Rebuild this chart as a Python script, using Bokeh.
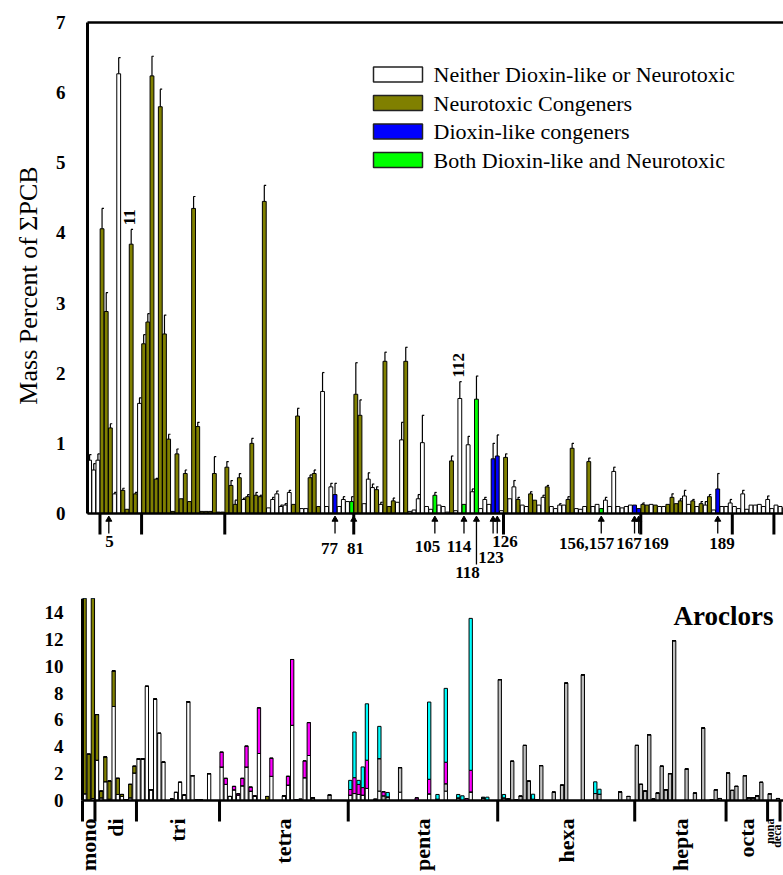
from math import pi
import numpy as np
from bokeh.plotting import figure
from bokeh.models import Range1d, FixedTicker, ColumnDataSource
from bokeh.layouts import column, row
from bokeh.embed import file_html
from bokeh.resources import INLINE
from bokeh.core.properties import value

# ---------------------------------------------------------------- data
homolog_names = ["mono", "di", "tri", "tetra", "penta", "hexa", "hepta", "octa", "nona", "deca"]
homolog_sizes = [3, 10, 20, 31, 36, 33, 22, 10, 3, 1]

# top panel: mass percent of sum PCB per congener slot, error (+) and class
# N = neither, T = neurotoxic, D = dioxin-like, B = both
top_pct = [
    0.76, 0.62, 0.76,
    4.06, 2.88, 1.22, 0.28, 6.27, 0.33, 0.06, 3.84, 0.28, 1.57,
    2.42, 2.73, 6.24, 0.49, 5.80, 2.56, 1.06, 0.03, 0.85, 0.21, 0.57, 0.17, 4.35, 1.24, 0.03, 0.03, 0.03, 0.57, 0.02, 0.02,
    0.66, 0.40, 0.13, 0.51, 0.20, 0.24, 1.00, 0.26, 0.24, 4.45, 0.08, 0.20, 0.28, 0.10, 0.12, 0.30, 0.13, 1.39, 0.07, 0.07,
    0.51, 0.57, 0.10, 1.74, 0.10, 0.38, 0.27, 0.10, 0.20, 0.17, 0.17,
    1.70, 1.40, 0.14, 0.49, 0.37, 0.34, 0.13, 2.17, 0.10, 0.18, 0.16, 1.05, 2.17, 0.03, 0.05, 0.21, 1.01, 0.10, 0.06, 0.26,
    0.12, 0.10, 0.02, 0.75, 0.04, 1.64, 0.13, 0.98, 0.31, 1.63, 0.07, 0.20, 0.13, 0.78, 0.82, 0.04,
    0.80, 0.21, 0.38, 0.20, 0.12, 0.10, 0.28, 0.19, 0.12, 0.23, 0.38, 0.10, 0.07, 0.12, 0.12, 0.20, 0.93, 0.07, 0.06, 0.10,
    0.74, 0.10, 0.13, 0.07, 0.19, 0.10, 0.60, 0.10, 0.08, 0.10, 0.12, 0.12, 0.07,
    0.13, 0.12, 0.13, 0.12, 0.10, 0.10, 0.13, 0.23, 0.14, 0.18, 0.25, 0.13, 0.18, 0.10, 0.14, 0.12, 0.24, 0.05, 0.35, 0.10,
    0.10, 0.15,
    0.10, 0.07, 0.28, 0.06, 0.12, 0.12, 0.13, 0.10, 0.20, 0.07,
    0.12, 0.10, 0.08,
    0.05,
]
top_err = [
    0.08, 0.09, 0.09,
    0.29, 0.27, 0.06, 0.02, 0.23, 0.03, 0, 0.21, 0.02, 0.08,
    0.13, 0.12, 0.28, 0.01, 0.25, 0.27, 0.07, 0, 0.07, 0, 0.05, 0, 0.17, 0.06, 0, 0, 0, 0.24, 0, 0,
    0.08, 0.07, 0.06, 0.06, 0.02, 0.03, 0.07, 0.04, 0.02, 0.23, 0, 0.03, 0.04, 0.02, 0.02, 0.03, 0, 0.11, 0, 0,
    0.04, 0.05, 0, 0.27, 0, 0.05, 0.16, 0, 0.04, 0, 0.07,
    0.45, 0.22, 0, 0.09, 0.05, 0.04, 0.03, 0.13, 0, 0.04, 0, 0.25, 0.20, 0, 0, 0.06, 0.39, 0, 0, 0.04,
    0, 0, 0, 0.07, 0, 0.24, 0, 0.12, 0.04, 0.33, 0, 0.03, 0, 0.22, 0.30, 0,
    0.05, 0, 0.09, 0.03, 0, 0, 0.03, 0, 0, 0.03, 0.02, 0, 0, 0.02, 0, 0.04, 0.07, 0, 0, 0,
    0.05, 0, 0, 0, 0.04, 0, 0.06, 0, 0, 0, 0, 0, 0,
    0.02, 0, 0, 0, 0, 0, 0, 0.05, 0, 0.03, 0.08, 0, 0.02, 0, 0.03, 0.05, 0.03, 0, 0.22, 0,
    0, 0.05,
    0, 0, 0.05, 0, 0, 0, 0, 0, 0.05, 0,
    0, 0, 0,
    0,
]
top_class = list(
    "NNN"
    "TTTNNTTTTN"
    "TTTTTTTTTTTTTTTTTTTT"
    "TTTTNTTTTTNNNNNNTTNNTTTNNNDNNNB"
    "TTNNNTNTTTNNTNNNNNNBNNNTNNBNNBNNNDDN"
    "TNNTNNTTNNTNNNNTTNNNTNNBNNNNNNNDD"
    "TTNTNNTTTTNNTNTNTNDNNN"
    "NNNNNNNNNN"
    "NNN"
    "N"
)
class_names = {"N": "Neither Dioxin-like or Neurotoxic", "T": "Neurotoxic Congeners",
               "D": "Dioxin-like congeners", "B": "Both Dioxin-like and Neurotoxic"}
labeled_bars = {10: "11", 89: "112"}
marked_labels = ["5", "77", "81", "105", "114", "118", "123", "126", "156,157", "167", "169", "189"]
arrow_slots = [4, 59, 83, 90, 97, 98, 123, 131, 132, 151]

# bottom panel: Aroclor composition, stacked segments per congener slot
aro_white = {0: 0.5, 2: 0.15, 3: 3.0, 4: 0.2, 5: 1.4, 6: 0.1, 7: 7.0, 8: 0.45, 9: 0.3, 10: 0.05, 11: 0.2, 12: 2.05,
             13: 3.1, 14: 3.1, 15: 8.5, 16: 0.8, 17: 7.55, 18: 5.0, 19: 2.85, 21: 0.1, 22: 0.6, 23: 1.35, 24: 0.4,
             25: 7.35, 26: 1.85, 27: 0.05, 28: 0.05, 30: 2.0,
             33: 2.5, 34: 1.2, 35: 0.3, 36: 0.8, 37: 0.4, 38: 1.1, 39: 2.5, 40: 0.7, 41: 0.3, 42: 3.5, 45: 1.8,
             48: 0.35, 49: 1.15, 50: 5.6, 51: 0.05, 53: 1.7, 54: 3.35,
             64: 0.4, 65: 0.52, 66: 0.45, 67: 0.4, 68: 0.9, 71: 0.7, 76: 0.62, 83: 0.5, 87: 0.7, 90: 0.2, 93: 0.64,
             96: 0.2, 102: 0.1}
aro_gray = {55: 0.2, 59: 0.4, 71: 2.42, 72: 0.35, 73: 0.27, 76: 1.83, 85: 0.1, 87: 0.55,
            100: 9.0, 101: 0.2, 103: 2.92, 104: 0.05, 105: 0.32, 106: 4.1, 107: 1.44, 108: 0.1, 109: 0.05, 110: 2.6,
            113: 0.62, 115: 1.14, 116: 8.74, 120: 9.36, 123: 0.52, 124: 0.47, 129: 0.64, 131: 0.3,
            133: 4.1, 134: 1.2, 135: 0.7, 136: 4.9, 137: 0.1, 138: 0.55, 139: 2.55, 140: 0.8, 141: 2.0, 142: 11.9,
            145: 2.35, 147: 0.55, 149: 5.4, 151: 0.03, 152: 0.8, 153: 0.15,
            155: 2.05, 156: 0.75, 157: 1.05, 159: 1.85, 160: 0.2, 161: 0.2, 162: 0.35, 163: 1.35, 165: 0.5, 167: 0.15}
aro_olive = {0: 22.0, 1: 3.45, 2: 22.0, 3: 3.4, 4: 0.5, 5: 1.85, 6: 1.35, 7: 2.65, 8: 1.2, 9: 0.15, 11: 1.0,
             12: 0.5, 44: 0.3}
aro_magenta = {33: 1.1, 34: 0.45, 36: 0.25, 37: 0.1, 38: 0.55, 39: 1.55, 40: 0.3, 41: 0.05, 42: 3.4, 45: 1.35,
               49: 0.65, 50: 4.9, 52: 0.1, 53: 1.25, 54: 2.45, 64: 0.42, 65: 1.18, 66: 0.75, 67: 0.56, 68: 2.1,
               70: 0.1, 72: 0.3, 80: 0.2, 83: 1.08, 87: 1.6, 92: 0.15, 93: 1.61}
aro_cyan = {64: 0.68, 65: 3.4, 66: 0.3, 67: 1.54, 68: 4.2, 71: 2.4, 73: 0.33, 83: 5.75, 85: 0.35, 87: 5.5,
            90: 0.25, 91: 0.35, 93: 11.31, 96: 0.05, 97: 0.25, 101: 0.25, 108: 0.37, 123: 0.87, 124: 0.37}

# ---------------------------------------------------------------- style / layout
SERIF = "Liberation Serif"
FILL = {"N": "#ffffff", "T": "#808000", "D": "#0000ff", "B": "#00ff00"}
bounds = np.cumsum([0] + homolog_sizes)  # 0,3,13,...,169

# pixel geometry of the reference page (used only to place annotations)
TX0, TS, TY0, TU = 87.0, 4.16, 513.0, 70.13   # top: slot 0 px, px/slot, zero px, px/unit
BX0, BS, BY0, BU = 82.0, 4.152, 800.0, 13.43  # bottom
TITLE_W = 45


def tx(px):
    return (px - TX0) / TS


def ty(py):
    return (TY0 - py) / TU


def bx(px):
    return (px - BX0) / BS


def by(py):
    return (BY0 - py) / BU


def style_yaxis(p, ticks, standoff):
    p.xaxis.visible = False
    p.xgrid.visible = False
    p.ygrid.visible = False
    p.outline_line_color = None
    a = p.yaxis[0]
    a.ticker = FixedTicker(ticks=ticks)
    a.axis_line_color = None
    a.major_tick_line_color = None
    a.minor_tick_line_color = None
    a.major_tick_out = 0
    a.major_tick_in = 0
    a.major_label_standoff = standoff
    a.major_label_text_font = SERIF
    a.major_label_text_font_style = "bold"
    a.major_label_text_font_size = "19px"
    a.major_label_text_color = "black"


# ================================================================ top figure
top_yr = Range1d(ty(582), ty(20))
top = figure(width=783 - TITLE_W, height=582, output_backend="svg", toolbar_location=None,
             x_range=Range1d(tx(85), tx(783)), y_range=top_yr,
             min_border_left=85 - TITLE_W, min_border_right=0, min_border_top=20, min_border_bottom=0)
style_yaxis(top, list(range(0, 8)), 20)

n = len(top_pct)
xs = [i + 0.5 for i in range(n)]
src = ColumnDataSource(dict(x=xs, top=top_pct, color=[FILL[c] for c in top_class]))
top.vbar(x="x", top="top", width=0.92, fill_color="color", line_color="black", line_width=1, source=src)

ex = [xs[i] for i in range(n) if top_err[i] > 0]
e0 = [top_pct[i] for i in range(n) if top_err[i] > 0]
e1 = [top_pct[i] + top_err[i] for i in range(n) if top_err[i] > 0]
top.segment(x0=ex, y0=e0, x1=ex, y1=e1, line_color="black", line_width=1.2)
top.segment(x0=[x - 0.05 for x in ex], y0=e1, x1=[x + 0.45 for x in ex], y1=e1, line_color="black", line_width=1.2)

# frame lines
top.segment(x0=[0], y0=[0], x1=[0], y1=[7], line_color="black", line_width=3)
top.segment(x0=[0], y0=[7], x1=[tx(783)], y1=[7], line_color="black", line_width=2.5)
top.segment(x0=[0], y0=[0], x1=[tx(783)], y1=[0], line_color="black", line_width=2.5)

# homolog boundary ticks
hb = [b for b in bounds[1:-1]]
top.segment(x0=hb, y0=[0] * len(hb), x1=hb, y1=[ty(534)] * len(hb), line_color="black", line_width=3)

# arrows under marked congeners
ax = [s + 0.5 for s in arrow_slots]
ax[0] = tx(108.3)
top.segment(x0=ax, y0=[ty(533)] * len(ax), x1=ax, y1=[ty(519)] * len(ax), line_color="black", line_width=1.3)
top.scatter(x=ax + [64], y=[ty(519)] * (len(ax) + 1), marker="triangle", size=6,
            fill_color="black", line_color="black")
# long leader for 118
top.segment(x0=[93.5], y0=[ty(564)], x1=[93.5], y1=[ty(519)], line_color="black", line_width=1.3)
top.scatter(x=[93.5], y=[ty(519)], marker="triangle", size=6, fill_color="black", line_color="black")

lab_px = {"5": (109, 541), "77": (329, 547.5), "81": (355, 547.5), "105": (427, 546), "114": (458.5, 546),
          "118": (467, 572), "123": (490.5, 557), "126": (504.5, 541), "156,157": (586, 542.5),
          "167": (628.5, 542.5), "169": (655.5, 542.5), "189": (721.5, 542.5)}
top.text(x=[tx(lab_px[k][0]) for k in marked_labels], y=[ty(lab_px[k][1]) for k in marked_labels],
         text=marked_labels, text_font=value(SERIF), text_font_style="bold", text_font_size="17px",
         text_align="center", text_baseline="middle", text_color="black")

# vertical labels above bars
lb = list(labeled_bars.keys())
top.text(x=[xs[i] - 0.3 for i in lb], y=[top_pct[i] + top_err[i] + 0.06 for i in lb],
         text=[labeled_bars[i] for i in lb], angle=pi / 2, text_font=value(SERIF), text_font_style="bold",
         text_font_size="17px", text_align="left", text_baseline="middle", text_color="black")

# legend
leg_keys = ["N", "T", "D", "B"]
leg_y = [ty(74), ty(102.5), ty(131), ty(159.5)]
top.rect(x=[(tx(373) + tx(422)) / 2] * 4, y=leg_y, width=tx(422) - tx(373), height=15 / TU,
         fill_color=[FILL[k] for k in leg_keys], line_color="#222222", line_width=1.5)
top.text(x=[tx(433)] * 4, y=leg_y, text=[class_names[k] for k in leg_keys], text_font=value(SERIF),
         text_font_size="22px", text_align="left", text_baseline="middle", text_color="black")

# y-axis title in a narrow strip sharing the top y range
ttl = figure(width=TITLE_W, height=582, output_backend="svg", toolbar_location=None,
             x_range=Range1d(0, TITLE_W), y_range=top_yr,
             min_border_left=0, min_border_right=0, min_border_top=20, min_border_bottom=0)
ttl.axis.visible = False
ttl.grid.visible = False
ttl.outline_line_color = None
ttl.text(x=[28], y=[ty(285)], text=["Mass Percent of \u03a3PCB"], angle=pi / 2, text_font=value(SERIF),
         text_font_size="26px", text_align="center", text_baseline="middle", text_color="black")

# ================================================================ bottom figure
bot = figure(width=783, height=293, output_backend="svg", toolbar_location=None,
             x_range=Range1d(bx(80), bx(783)), y_range=Range1d(by(875), by(598)),
             min_border_left=80, min_border_right=0, min_border_top=16, min_border_bottom=0)
style_yaxis(bot, list(range(0, 15, 2)), 17)

series = [aro_white, aro_gray, aro_olive, aro_magenta, aro_cyan]
slots = sorted(set().union(*[d.keys() for d in series]))
bsrc = ColumnDataSource(dict(
    x=[s + 0.5 for s in slots],
    w=[aro_white.get(s, 0) for s in slots],
    g=[aro_gray.get(s, 0) for s in slots],
    o=[aro_olive.get(s, 0) for s in slots],
    m=[aro_magenta.get(s, 0) for s in slots],
    c=[aro_cyan.get(s, 0) for s in slots],
))
bot.vbar_stack(["w", "g", "o", "m", "c"], x="x", width=0.8, source=bsrc,
               fill_color=["#ffffff", "#c0c0c0", "#808000", "#ff00ff", "#00ffff"],
               line_color="black", line_width=1)

ymax_b = by(598)
bot.segment(x0=[0], y0=[0], x1=[0], y1=[ymax_b], line_color="black", line_width=3)
bot.segment(x0=[0], y0=[0], x1=[bx(783)], y1=[0], line_color="black", line_width=2.5)
bb = list(bounds[:-1])
bot.segment(x0=bb, y0=[0] * len(bb), x1=bb, y1=[by(821)] * len(bb), line_color="black", line_width=3)

# homolog names under the bottom axis (nona / deca squeezed at the right edge)
centers = [(bounds[i] + bounds[i + 1]) / 2 for i in range(len(homolog_names))]
main_n = len(homolog_names) - 2
bot.text(x=centers[:main_n], y=[by(818)] * main_n, text=homolog_names[:main_n], angle=pi / 2,
         text_font=value(SERIF), text_font_style="bold", text_font_size="22px",
         text_align="right", text_baseline="middle", text_color="black")
bot.text(x=[bx(769.5), bx(776)], y=[by(818), by(824)], text=homolog_names[main_n:], angle=pi / 2,
         text_font=value(SERIF), text_font_style="bold", text_font_size="12px",
         text_align="right", text_baseline="middle", text_color="black")
bot.text(x=[bx(773)], y=[by(615)], text=["Aroclors"], text_font=value(SERIF),
         text_font_style="bold", text_font_size="27px", text_align="right", text_baseline="middle",
         text_color="black")

layout = column(row(ttl, top, spacing=0), bot, spacing=0)
open("out.html", "w").write(file_html(layout, INLINE))
